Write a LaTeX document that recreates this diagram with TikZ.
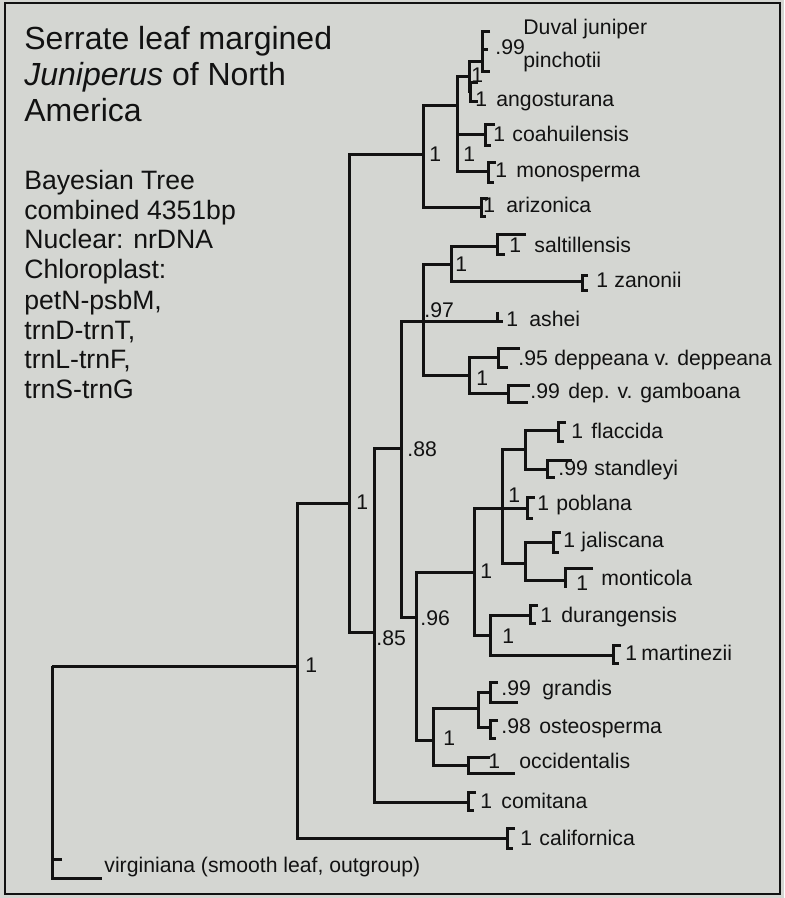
\documentclass[tikz,border=0pt]{standalone}
\usepackage{fontspec}
\setmainfont{Liberation Sans}
\definecolor{panelgray}{RGB}{212,214,210}
\definecolor{inkblack}{RGB}{18,18,18}
\tikzset{
  branch/.style={draw=inkblack, line width=1.5pt},
  pp/.style={anchor=base west, inner sep=0pt, text=inkblack, font=\fontsize{10.6}{12}\selectfont},
  taxon/.style={pp},
  titleline/.style={anchor=base west, inner sep=0pt, text=inkblack, font=\fontsize{16}{18}\selectfont},
  infoline/.style={anchor=base west, inner sep=0pt, text=inkblack, font=\fontsize{13.3}{15}\selectfont}
}
\begin{document}
\begin{tikzpicture}[x=0.5pt,y=-0.5pt]
                \fill[panelgray] (0,0) rectangle (784,898);
                \useasboundingbox (0,0) rectangle (784,898);
                \draw[inkblack, line width=1.2pt] (5,3) rectangle (780,894);

                \node[titleline] (title1) at (24,50) {Serrate leaf margined};
                \node[titleline] (title2) at (24,86) {\textit{Juniperus} of North};
                \node[titleline] (title3) at (24,122) {America};

                \node[infoline] (info1) at (24,190) {Bayesian Tree};
                \node[infoline] (info2) at (24,220) {combined 4351bp};
                \node[infoline] (info3) at (24,249) {Nuclear: nrDNA};
                \node[infoline] (info4) at (24,279) {Chloroplast:};
                \node[infoline] (info5) at (24,309) {petN-psbM,};
                \node[infoline] (info6) at (24,339) {trnD-trnT,};
                \node[infoline] (info7) at (24,368) {trnL-trnF,};
                \node[infoline] (info8) at (24,398) {trnS-trnG};

                % internal nodes
                \coordinate (root) at (52,666);
                \coordinate (n1) at (297,666);
                \coordinate (n2) at (349,503);
                \coordinate (nA) at (423,155);
                \coordinate (nB) at (457,106);
                \coordinate (nC) at (469,77);
                \coordinate (n3) at (374,632);
                \coordinate (n4) at (401,448);
                \coordinate (n5) at (423,322);
                \coordinate (n7) at (451,265);
                \coordinate (n8) at (469,375);
                \coordinate (n6) at (416,617);
                \coordinate (nD) at (474,572);
                \coordinate (nE) at (502,508);
                \coordinate (nF) at (525,449);
                \coordinate (nG) at (525,563);
                \coordinate (nH) at (490,635);
                \coordinate (nI) at (433,740);
                \coordinate (nJ) at (478,708);

                % tips
                \coordinate (duval) at (482,62);
                \coordinate (ango) at (470,92);
                \coordinate (coah) at (485,135);
                \coordinate (mono) at (488,172);
                \coordinate (ariz) at (481,208);
                \coordinate (salt) at (497,247);
                \coordinate (zano) at (582,282);
                \coordinate (ashe) at (497,322);
                \coordinate (depp) at (498,357);
                \coordinate (gamb) at (508,393);
                \coordinate (flac) at (558,430);
                \coordinate (stan) at (547,469);
                \coordinate (pobl) at (527,508);
                \coordinate (jali) at (553,542);
                \coordinate (mont) at (565,580);
                \coordinate (dura) at (530,615);
                \coordinate (mart) at (613,655);
                \coordinate (gran) at (490,692);
                \coordinate (oste) at (490,727);
                \coordinate (occi) at (468,765);
                \coordinate (comi) at (468,802);
                \coordinate (cali) at (507,838);
                \coordinate (virg) at (52,878);

                \draw[branch] (root) -- (n1);
                \draw[branch] (root) |- (virg);
                \draw[branch] (n1) |- (n2);
                \draw[branch] (n1) |- (cali);
                \draw[branch] (n2) |- (nA);
                \draw[branch] (n2) |- (n3);
                \draw[branch] (nA) |- (nB);
                \draw[branch] (nA) |- (ariz);
                \draw[branch] (nB) |- (nC);
                \draw[branch] (nB) |- (coah);
                \draw[branch] (nB) |- (mono);
                \draw[branch] (nC) |- (duval);
                \draw[branch] (nC) |- (ango);
                \draw[branch] (n3) |- (n4);
                \draw[branch] (n3) |- (comi);
                \draw[branch] (n4) |- (n5);
                \draw[branch] (n4) |- (n6);
                \draw[branch] (n5) |- (n7);
                \draw[branch] (n5) -- (ashe);
                \draw[branch] (n5) |- (n8);
                \draw[branch] (n7) |- (salt);
                \draw[branch] (n7) |- (zano);
                \draw[branch] (n8) |- (depp);
                \draw[branch] (n8) |- (gamb);
                \draw[branch] (n6) |- (nD);
                \draw[branch] (n6) |- (nI);
                \draw[branch] (nD) |- (nE);
                \draw[branch] (nD) |- (nH);
                \draw[branch] (nE) |- (nF);
                \draw[branch] (nE) -- (pobl);
                \draw[branch] (nE) |- (nG);
                \draw[branch] (nF) |- (flac);
                \draw[branch] (nF) |- (stan);
                \draw[branch] (nG) |- (jali);
                \draw[branch] (nG) |- (mont);
                \draw[branch] (nH) |- (dura);
                \draw[branch] (nH) |- (mart);
                \draw[branch] (nI) |- (nJ);
                \draw[branch] (nI) |- (occi);
                \draw[branch] (nJ) |- (gran);
                \draw[branch] (nJ) |- (oste);

                % tip brackets
                \draw[branch] (duval) ++(8,-30) -- ++(-8,0) -- ++(0,40) -- ++(8,0);
                \draw[branch] (duval) ++(0,-12) -- ++(6,0);
                \draw[branch] (ango) ++(8,-9) -- ++(-8,0) -- ++(0,19) -- ++(8,0);
                \draw[branch] (coah) ++(10,-10) -- ++(-10,0) -- ++(0,21) -- ++(6,0);
                \draw[branch] (mono) ++(8,-9) -- ++(-8,0) -- ++(0,20) -- ++(6,0);
                \draw[branch] (ariz) ++(7,-9) -- ++(-7,0) -- ++(0,18) -- ++(5,0);
                \draw[branch] (salt) ++(29,-12) -- ++(-29,0) -- ++(0,20) -- ++(8,0);
                \draw[branch] (zano) ++(6,-6) -- ++(-6,0) -- ++(0,15) -- ++(6,0);
                \draw[branch] (ashe) ++(0,-10) -- ++(0,10) -- ++(6,0);
                \draw[branch] (depp) ++(22,-9) -- ++(-22,0) -- ++(0,19) -- ++(10,0);
                \draw[branch] (gamb) ++(22,-8) -- ++(-22,0) -- ++(0,17) -- ++(20,0);
                \draw[branch] (flac) ++(8,-8) -- ++(-8,0) -- ++(0,19) -- ++(6,0);
                \draw[branch] (stan) ++(25,-9) -- ++(-25,0) -- ++(0,17) -- ++(8,0);
                \draw[branch] (pobl) ++(8,-11) -- ++(-8,0) -- ++(0,21) -- ++(6,0);
                \draw[branch] (jali) ++(8,-10) -- ++(-8,0) -- ++(0,20) -- ++(6,0);
                \draw[branch] (mont) ++(28,-12) -- ++(-28,0) -- ++(0,20);
                \draw[branch] (dura) ++(8,-10) -- ++(-8,0) -- ++(0,18) -- ++(6,0);
                \draw[branch] (mart) ++(8,-10) -- ++(-8,0) -- ++(0,18) -- ++(6,0);
                \draw[branch] (gran) ++(8,-10) -- ++(-8,0) -- ++(0,20) -- ++(28,0);
                \draw[branch] (oste) ++(8,-7) -- ++(-8,0) -- ++(0,18) -- ++(6,0);
                \draw[branch] (occi) ++(22,-8) -- ++(-22,0) -- ++(0,16) -- ++(47,0);
                \draw[branch] (comi) ++(8,-10) -- ++(-8,0) -- ++(0,18) -- ++(6,0);
                \draw[branch] (cali) ++(8,-10) -- ++(-8,0) -- ++(0,20) -- ++(6,0);
                \draw[branch] (virg) ++(10,-19) -- ++(-10,0) -- ++(0,19) -- ++(50,0);

                % support values at internal nodes
                \node[pp] (n1-pp) at (305,672) {1};
                \node[pp] (n2-pp) at (356,509) {1};
                \node[pp] (nA-pp) at (429,162) {1};
                \node[pp] (nB-pp) at (463,162) {1};
                \node[pp] (nC-pp) at (471,83) {1};
                \node[pp] (n3-pp) at (376,645) {.85};
                \node[pp] (n4-pp) at (407,456) {.88};
                \node[pp] (n5-pp) at (424,317) {.97};
                \node[pp] (n7-pp) at (455,272) {1};
                \node[pp] (n8-pp) at (476,385) {1};
                \node[pp] (n6-pp) at (420,625) {.96};
                \node[pp] (nD-pp) at (480,578) {1};
                \node[pp] (nE-pp) at (508,502) {1};
                \node[pp] (nH-pp) at (502,643) {1};
                \node[pp] (nI-pp) at (443,745) {1};

                % taxa
                \node[pp] (duval-pp) at (495,55) {.99};
                \node[taxon] (duval-name) at (523,35) {Duval juniper};
                \node[taxon] (pinch-name) at (523,68) {pinchotii};
                \node[pp] (ango-pp) at (475,107) {1};
                \node[taxon] (ango-name) at (496,107) {angosturana};
                \node[pp] (coah-pp) at (493,142) {1};
                \node[taxon] (coah-name) at (512,142) {coahuilensis};
                \node[pp] (mono-pp) at (495,178) {1};
                \node[taxon] (mono-name) at (516,178) {monosperma};
                \node[pp] (ariz-pp) at (483,213) {1};
                \node[taxon] (ariz-name) at (506,213) {arizonica};
                \node[pp] (salt-pp) at (509,253) {1};
                \node[taxon] (salt-name) at (534,253) {saltillensis};
                \node[pp] (zano-pp) at (596,288) {1};
                \node[taxon] (zano-name) at (614,288) {zanonii};
                \node[pp] (ashe-pp) at (506,327) {1};
                \node[taxon] (ashe-name) at (529,327) {ashei};
                \node[pp] (depp-pp) at (518,365) {.95};
                \node[taxon] (depp-name) at (554,365) {deppeana v. deppeana};
                \node[pp] (gamb-pp) at (530,398) {.99};
                \node[taxon] (gamb-name) at (568,398) {dep. v. gamboana};
                \node[pp] (flac-pp) at (571,438) {1};
                \node[taxon] (flac-name) at (591,438) {flaccida};
                \node[pp] (stan-pp) at (558,475) {.99};
                \node[taxon] (stan-name) at (594,475) {standleyi};
                \node[pp] (pobl-pp) at (537,510) {1};
                \node[taxon] (pobl-name) at (556,510) {poblana};
                \node[pp] (jali-pp) at (563,547) {1};
                \node[taxon] (jali-name) at (581,547) {jaliscana};
                \node[pp] (mont-pp) at (576,590) {1};
                \node[taxon] (mont-name) at (601,585) {monticola};
                \node[pp] (dura-pp) at (540,622) {1};
                \node[taxon] (dura-name) at (561,622) {durangensis};
                \node[pp] (mart-pp) at (625,660) {1};
                \node[taxon] (mart-name) at (641,660) {martinezii};
                \node[pp] (gran-pp) at (501,695) {.99};
                \node[taxon] (gran-name) at (542,695) {grandis};
                \node[pp] (oste-pp) at (501,733) {.98};
                \node[taxon] (oste-name) at (539,733) {osteosperma};
                \node[pp] (occi-pp) at (488,768) {1};
                \node[taxon] (occi-name) at (519,768) {occidentalis};
                \node[pp] (comi-pp) at (480,808) {1};
                \node[taxon] (comi-name) at (501,808) {comitana};
                \node[pp] (cali-pp) at (520,845) {1};
                \node[taxon] (cali-name) at (539,845) {californica};
                \node[taxon] (virg-name) at (104,872) {virginiana (smooth leaf, outgroup)};
\end{tikzpicture}
\end{document}
